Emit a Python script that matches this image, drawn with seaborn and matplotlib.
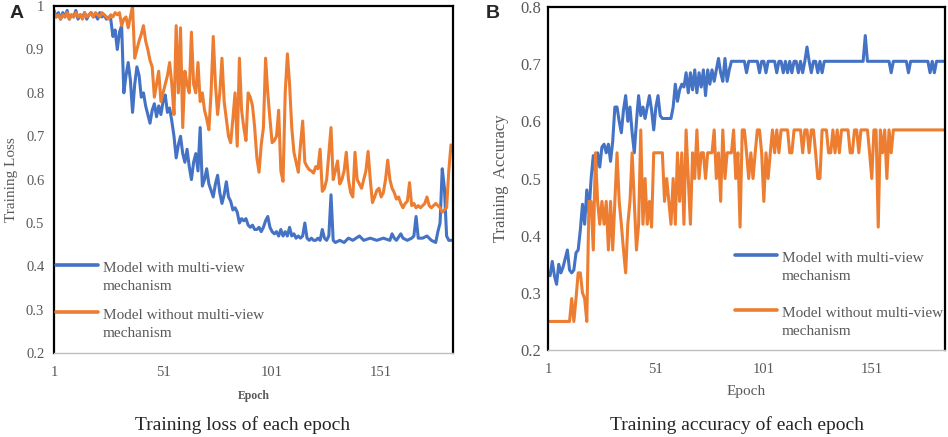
import pandas as pd
import numpy as np
import matplotlib
matplotlib.use("Agg")
import matplotlib.pyplot as plt
from matplotlib.lines import Line2D
from matplotlib.legend_handler import HandlerLine2D
import seaborn as sns

# valores (epoca, valor) - pontos-chave de cada curva
loss_with_ep = [1, 2, 3, 4, 5, 6, 7, 8, 9, 10, 11, 12, 13, 14, 15, 16, 17, 18, 19, 20, 21, 22, 23, 24, 25, 26,
                27, 28, 29, 30, 31, 32, 33, 34, 35, 36, 37, 38, 39, 40, 41, 42, 43, 44, 45, 46, 47, 48, 49, 50,
                51, 52, 53, 54, 55, 56, 57, 58, 59, 60, 61, 62, 63, 64, 65, 66, 67, 68, 69, 70, 71, 72, 73, 74,
                75, 76, 77, 78, 79, 80, 81, 82, 83, 84, 85, 86, 87, 88, 89, 90, 91, 92, 93, 94, 95, 96, 97, 98,
                99, 100, 101, 102, 103, 104, 105, 106, 107, 108, 109, 110, 111, 112, 113, 114, 115, 116, 117,
                118, 119, 120, 121, 122, 123, 124, 125, 126, 127, 128, 129, 130, 132, 134, 136, 138, 141, 143,
                146, 149, 152, 155, 156, 157, 158, 160, 161, 163, 165, 166, 167, 168, 170, 172, 174, 176, 177,
                178, 179, 180, 181, 182, 184]
loss_with = [0.99, 0.975, 0.985, 0.97, 0.985, 0.975, 0.99, 0.97, 0.98, 0.975, 0.99, 0.97, 0.98, 0.975, 0.985,
             0.97, 0.98, 0.985, 0.975, 0.98, 0.97, 0.985, 0.975, 0.98, 0.97, 0.975,
             0.97, 0.93, 0.945, 0.90, 0.94, 0.955, 0.80, 0.84, 0.87, 0.83, 0.755, 0.82, 0.86, 0.84, 0.79, 0.80,
             0.77, 0.75, 0.73, 0.76, 0.775, 0.745, 0.77, 0.75, 0.78, 0.795, 0.755, 0.765, 0.735, 0.70, 0.65,
             0.68, 0.70, 0.66, 0.64, 0.67, 0.63, 0.60, 0.64, 0.66, 0.62, 0.72, 0.585, 0.60, 0.625, 0.59, 0.575,
             0.56, 0.59, 0.61, 0.57, 0.545, 0.565, 0.595, 0.56, 0.55, 0.53, 0.535, 0.525, 0.50, 0.51, 0.505,
             0.51, 0.495, 0.49, 0.495, 0.485, 0.485, 0.49, 0.48, 0.49, 0.505, 0.515, 0.49, 0.48, 0.475, 0.48,
             0.47, 0.485, 0.47, 0.48, 0.47, 0.49, 0.47, 0.475, 0.465, 0.47, 0.465, 0.47, 0.50, 0.465, 0.46,
             0.465, 0.46, 0.46, 0.465, 0.46, 0.485, 0.465, 0.46, 0.47, 0.565, 0.46, 0.455, 0.46, 0.455, 0.465,
             0.46, 0.47, 0.46, 0.465, 0.46, 0.465, 0.46, 0.475, 0.465, 0.46, 0.475, 0.465, 0.46, 0.465, 0.47,
             0.515, 0.465, 0.465, 0.47, 0.46, 0.455, 0.48, 0.50, 0.625, 0.58, 0.47, 0.46, 0.46]

loss_without_ep = list(range(1, 184))
loss_without = [0.985, 0.975, 0.98, 0.97, 0.98, 0.975, 0.985, 0.97, 0.98, 0.975, 0.985, 0.975, 0.98, 0.97,
                0.985, 0.975, 0.98, 0.985, 0.975, 0.985, 0.98, 0.975, 0.985, 0.98, 0.975, 0.97, 0.98, 0.975,
                0.985, 0.98, 0.985, 0.955, 0.97, 0.975, 0.95, 0.975, 1.0, 0.88, 0.90, 0.92, 0.935, 0.955,
                0.92, 0.90, 0.875, 0.86, 0.79, 0.82, 0.85, 0.78, 0.80, 0.82, 0.84, 0.87, 0.82, 0.75, 0.955,
                0.80, 0.95, 0.72, 0.85, 0.82, 0.80, 0.94, 0.82, 0.80, 0.87, 0.78, 0.80, 0.76, 0.74, 0.715,
                0.80, 0.93, 0.82, 0.75, 0.80, 0.88, 0.78, 0.74, 0.70, 0.685, 0.74, 0.80, 0.677, 0.88, 0.76,
                0.72, 0.69, 0.80, 0.79, 0.77, 0.72, 0.65, 0.617, 0.68, 0.72, 0.88, 0.80, 0.74, 0.685, 0.69,
                0.70, 0.76, 0.62, 0.596, 0.80, 0.89, 0.82, 0.72, 0.663, 0.64, 0.617, 0.68, 0.735, 0.64, 0.63,
                0.623, 0.62, 0.615, 0.63, 0.625, 0.67, 0.573, 0.58, 0.60, 0.66, 0.72, 0.60, 0.62, 0.643, 0.59,
                0.60, 0.62, 0.663, 0.60, 0.57, 0.56, 0.663, 0.60, 0.59, 0.58, 0.60, 0.62, 0.665, 0.60, 0.547,
                0.56, 0.575, 0.58, 0.56, 0.57, 0.60, 0.645, 0.60, 0.58, 0.57, 0.555, 0.56, 0.545, 0.535,
                0.545, 0.55, 0.593, 0.54, 0.545, 0.535, 0.54, 0.535, 0.54, 0.545, 0.56, 0.54, 0.535, 0.54,
                0.545, 0.54, 0.535, 0.525, 0.53, 0.535, 0.62, 0.68]

acc_with_ep = [1, 2, 3, 4, 5, 6, 7, 8, 9, 10, 11, 12, 13, 14, 15, 16, 17, 18, 19, 20, 21, 22, 23, 24, 25, 26,
               27, 28, 29, 30, 31, 32, 33, 34, 35, 36, 37, 38, 39, 40, 41, 42, 43, 44, 45, 46, 47, 48, 49, 50,
               51, 52, 53, 54, 58, 59, 60, 61, 62, 63, 64, 65, 66, 67, 68, 69, 70, 71, 72, 73, 74, 75, 76, 77,
               78, 79, 80, 81, 82, 83, 84, 85, 86, 92, 93, 94, 98, 99, 100, 101, 102, 103, 106, 107, 108, 109,
               110, 111, 112, 113, 114, 115, 116, 117, 118, 119, 120, 121, 122, 123, 124, 125, 126, 127, 128,
               129, 147, 148, 149, 159, 160, 161, 167, 168, 169, 177, 178, 179, 180, 181, 185]
acc_with = [0.335, 0.33, 0.355, 0.33, 0.315, 0.35, 0.335, 0.345, 0.36, 0.375, 0.34, 0.335, 0.34, 0.37, 0.375,
            0.41, 0.455, 0.42, 0.48, 0.44, 0.50, 0.54, 0.51, 0.545, 0.52, 0.555, 0.56, 0.545, 0.56, 0.53,
            0.565, 0.625, 0.625, 0.60, 0.58, 0.62, 0.645, 0.60, 0.625, 0.58, 0.545, 0.60, 0.645, 0.61, 0.625,
            0.605, 0.625, 0.645, 0.62, 0.585, 0.625, 0.645, 0.61, 0.605, 0.605, 0.625, 0.665, 0.635, 0.655,
            0.665, 0.66, 0.685, 0.65, 0.685, 0.655, 0.69, 0.65, 0.685, 0.66, 0.69, 0.645, 0.69, 0.665, 0.69,
            0.67, 0.69, 0.71, 0.685, 0.67, 0.71, 0.67, 0.69, 0.705, 0.705, 0.685, 0.705, 0.705, 0.685, 0.705,
            0.705, 0.685, 0.705, 0.705, 0.685, 0.705, 0.705, 0.685, 0.705, 0.685, 0.705, 0.685, 0.705, 0.705,
            0.685, 0.705, 0.685, 0.705, 0.73, 0.705, 0.685, 0.705, 0.705, 0.685, 0.705, 0.685, 0.705, 0.705,
            0.75, 0.705, 0.705, 0.685, 0.705, 0.705, 0.685, 0.705, 0.705, 0.685, 0.705, 0.685, 0.705, 0.705]

acc_without_ep = [1, 11, 12, 13, 14, 15, 16, 17, 18, 19, 20, 21, 22, 23, 24, 25, 26, 27, 28, 29, 30, 31, 32, 33,
                  34, 35, 36, 37, 38, 39, 40, 41, 42, 43, 44, 45, 46, 47, 48, 49, 50, 54, 55, 56, 57, 58, 59,
                  60, 61, 62, 63, 64, 65, 66, 67, 68, 69, 70, 71, 72, 73, 74, 75, 77, 78, 79, 80, 81, 82, 83,
                  84, 86, 87, 88, 89, 90, 91, 92, 93, 94, 95, 96, 97, 98, 99, 100, 101, 102, 103, 104, 105, 106,
                  107, 108, 109, 112, 113, 114, 115, 118, 119, 120, 121, 122, 123, 124, 125, 126, 127, 128, 130,
                  131, 132, 133, 134, 135, 136, 137, 140, 141, 142, 143, 144, 145, 146, 149, 150, 151, 152, 153,
                  154, 155, 156, 157, 158, 159, 160, 161, 185]
acc_without = [0.25, 0.25, 0.29, 0.25, 0.29, 0.335, 0.335, 0.30, 0.29, 0.25, 0.46, 0.46, 0.375, 0.545, 0.46,
               0.42, 0.46, 0.42, 0.46, 0.375, 0.46, 0.375, 0.46, 0.545, 0.46, 0.42, 0.375, 0.335, 0.42, 0.46,
               0.545, 0.46, 0.375, 0.42, 0.585, 0.42, 0.50, 0.42, 0.46, 0.415, 0.545, 0.545, 0.46, 0.50, 0.46,
               0.42, 0.50, 0.42, 0.545, 0.46, 0.545, 0.42, 0.585, 0.50, 0.42, 0.545, 0.50, 0.585, 0.50, 0.545,
               0.545, 0.50, 0.545, 0.545, 0.585, 0.50, 0.545, 0.46, 0.585, 0.50, 0.545, 0.545, 0.585, 0.50,
               0.545, 0.415, 0.585, 0.585, 0.545, 0.50, 0.545, 0.50, 0.545, 0.585, 0.585, 0.545, 0.46, 0.545,
               0.50, 0.545, 0.585, 0.545, 0.585, 0.545, 0.585, 0.585, 0.545, 0.545, 0.585, 0.585, 0.545, 0.585,
               0.585, 0.545, 0.585, 0.585, 0.545, 0.50, 0.50, 0.585, 0.585, 0.545, 0.545, 0.585, 0.545, 0.585,
               0.545, 0.585, 0.585, 0.545, 0.545, 0.585, 0.585, 0.545, 0.585, 0.585, 0.545, 0.50, 0.585, 0.585,
               0.415, 0.585, 0.545, 0.585, 0.50, 0.585, 0.545, 0.585, 0.585]

labels = ["Model with multi-view\nmechanism", "Model without multi-view\nmechanism"]
cores = {labels[0]: "#4472C4", labels[1]: "#ED7D31"}
cinza = "#595959"

df_loss = pd.concat([
    pd.DataFrame({"epoch": loss_with_ep, "valor": loss_with, "modelo": labels[0]}),
    pd.DataFrame({"epoch": loss_without_ep, "valor": loss_without, "modelo": labels[1]}),
])
df_acc = pd.concat([
    pd.DataFrame({"epoch": acc_with_ep, "valor": acc_with, "modelo": labels[0]}),
    pd.DataFrame({"epoch": acc_without_ep, "valor": acc_without, "modelo": labels[1]}),
])

sns.set_style("white")
plt.rcParams["font.family"] = ["Liberation Serif", "DejaVu Serif"]


# linha da legenda alinhada com a primeira linha do texto (como no Excel)
class HandlerTopo(HandlerLine2D):
    def create_artists(self, legend, orig_handle, xdescent, ydescent, width, height, fontsize, trans):
        arts = super().create_artists(legend, orig_handle, xdescent, ydescent, width, height, fontsize, trans)
        for a in arts:
            a.set_ydata(np.asarray(a.get_ydata(), dtype=float) + 0.78 * fontsize)
        return arts


fig = plt.figure(figsize=(9.48, 4.37), dpi=100)
axA = fig.add_axes([0.057, 0.192, 0.421, 0.794])
axB = fig.add_axes([0.578, 0.199, 0.419, 0.785])


def estilo(ax, xmax, ymin, ymax, yticks, ylabels, ysize):
    ax.set_xlim(1, xmax)
    ax.set_ylim(ymin, ymax)
    ax.set_xticks([1, 51, 101, 151])
    ax.set_yticks(yticks)
    ax.set_yticklabels(ylabels)
    for s in ["left", "right", "top"]:
        ax.spines[s].set_color("black")
        ax.spines[s].set_linewidth(1.6)
    ax.spines["bottom"].set_color("#BFBFBF")
    ax.spines["bottom"].set_linewidth(1.0)
    ax.tick_params(axis="x", length=0, pad=9, labelsize=10.5, labelcolor=cinza)
    ax.tick_params(axis="y", length=0, pad=7, labelsize=ysize, labelcolor=cinza)
    ax.grid(False)


def legenda(ax, anchor, spacing):
    leg = ax.legend(loc="upper left", bbox_to_anchor=anchor, frameon=False, fontsize=11,
                    labelcolor=cinza, handlelength=2.75, handletextpad=0.3, labelspacing=spacing,
                    borderpad=0, borderaxespad=0, handler_map={Line2D: HandlerTopo()})
    for t in leg.get_texts():
        t.set_linespacing(1.45)
    for h in leg.get_lines():
        h.set_linewidth(2.6)
    return leg


# Painel A - loss
sns.lineplot(data=df_loss, x="epoch", y="valor", hue="modelo", palette=cores, linewidth=2.2,
             sort=False, estimator=None, ax=axA)
estilo(axA, 184, 0.2, 1.0, np.arange(0.2, 1.01, 0.1),
       ["0.2", "0.3", "0.4", "0.5", "0.6", "0.7", "0.8", "0.9", "1"], 10.5)
axA.set_xlabel("Epoch", fontsize=8.5, fontweight="bold", color=cinza, labelpad=8)
axA.set_ylabel("Training Loss", fontsize=11, color=cinza, labelpad=6)
legenda(axA, (0.005, 0.262), 1.1)

# Painel B - acuracia
sns.lineplot(data=df_acc, x="epoch", y="valor", hue="modelo", palette=cores, linewidth=2.2,
             sort=False, estimator=None, ax=axB)
estilo(axB, 185, 0.2, 0.8, np.arange(0.2, 0.81, 0.1),
       ["0.2", "0.3", "0.4", "0.5", "0.6", "0.7", "0.8"], 12)
axB.tick_params(axis="y", pad=5)
axB.set_xlabel("Epoch", fontsize=11, color=cinza, labelpad=7)
axB.set_ylabel("Training  Accuracy", fontsize=12, color=cinza, labelpad=8)
legenda(axB, (0.471, 0.285), 1.6)

fig.text(0.256, 0.027, "Training loss of each epoch", ha="center", va="center", fontsize=14)
fig.text(0.777, 0.027, "Training accuracy of each epoch", ha="center", va="center", fontsize=14)
fig.text(0.017, 0.968, "A", ha="center", va="center", fontsize=14, fontweight="bold",
         family=["Liberation Sans", "DejaVu Sans"])
fig.text(0.52, 0.968, "B", ha="center", va="center", fontsize=14, fontweight="bold",
         family=["Liberation Sans", "DejaVu Sans"])

fig.savefig("out.png", dpi=100)
plt.close(fig)
